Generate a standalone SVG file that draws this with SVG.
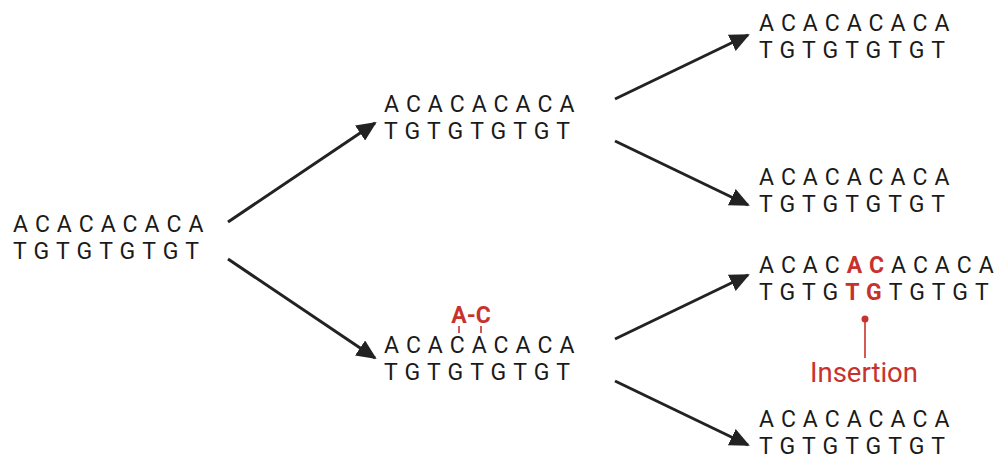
<svg xmlns="http://www.w3.org/2000/svg" width="1002" height="462" viewBox="0 0 1002 462">
  <style>
    .seq { font-family: Roboto, "Liberation Sans", sans-serif; font-size: 23px; letter-spacing: 7px; fill: #1a1a1a; }
    .red { fill: #c8322d; font-weight: bold; }
    .lbl { font-family: Roboto, "Liberation Sans", sans-serif; font-size: 23px; font-weight: bold; fill: #c8322d; }
    .ins { font-family: Roboto, "Liberation Sans", sans-serif; font-size: 27.5px; fill: #c8322d; }
    .conn { stroke: #222; stroke-width: 3; fill: none; marker-end: url(#ah); }
    .mark { stroke: #c8322d; stroke-width: 1.6; fill: none; }
  </style>
  <defs>
    <marker id="ah" markerUnits="userSpaceOnUse" markerWidth="20" markerHeight="18" viewBox="0 0 20 18" refX="18" refY="9" orient="auto">
      <path d="M0,0 L20,9 L0,18 Z" fill="#222"/>
    </marker>
  </defs>
  <rect width="1002" height="462" fill="#ffffff"/>

  <g id="connectors">
    <line class="conn" x1="228" y1="222" x2="375" y2="123"/>
    <line class="conn" x1="228" y1="259" x2="375" y2="358"/>
    <line class="conn" x1="615" y1="99" x2="748" y2="35"/>
    <line class="conn" x1="615" y1="141" x2="748" y2="205"/>
    <line class="conn" x1="615" y1="339" x2="748" y2="275"/>
    <line class="conn" x1="615" y1="381" x2="748" y2="445"/>
  </g>

  <g id="node-origin">
    <text class="seq" x="13" y="232">ACACACACA</text>
    <text class="seq" x="13" y="259">TGTGTGTGT</text>
  </g>

  <g id="node-gen1-top">
    <text class="seq" x="384" y="112">ACACACACA</text>
    <text class="seq" x="384" y="139">TGTGTGTGT</text>
  </g>

  <g id="node-gen1-bottom">
    <text class="lbl" x="471" y="323" text-anchor="middle">A-C</text>
    <line class="mark" x1="459" y1="326" x2="459" y2="333"/>
    <line class="mark" x1="481" y1="326" x2="481" y2="333"/>
    <text class="seq" x="384" y="353">ACACACACA</text>
    <text class="seq" x="384" y="380">TGTGTGTGT</text>
  </g>

  <g id="node-gen2-1">
    <text class="seq" x="759" y="31">ACACACACA</text>
    <text class="seq" x="759" y="58">TGTGTGTGT</text>
  </g>

  <g id="node-gen2-2">
    <text class="seq" x="759" y="185">ACACACACA</text>
    <text class="seq" x="759" y="212">TGTGTGTGT</text>
  </g>

  <g id="node-gen2-3">
    <text class="seq" x="759" y="273">ACAC<tspan class="red">AC</tspan>ACACA</text>
    <text class="seq" x="759" y="300">TGTG<tspan class="red">TG</tspan>TGTGT</text>
    <circle cx="865" cy="319" r="3.5" fill="#c8322d"/>
    <line class="mark" x1="865" y1="319" x2="865" y2="358"/>
    <text class="ins" x="864" y="382" text-anchor="middle">Insertion</text>
  </g>

  <g id="node-gen2-4">
    <text class="seq" x="759" y="427">ACACACACA</text>
    <text class="seq" x="759" y="454">TGTGTGTGT</text>
  </g>
</svg>
